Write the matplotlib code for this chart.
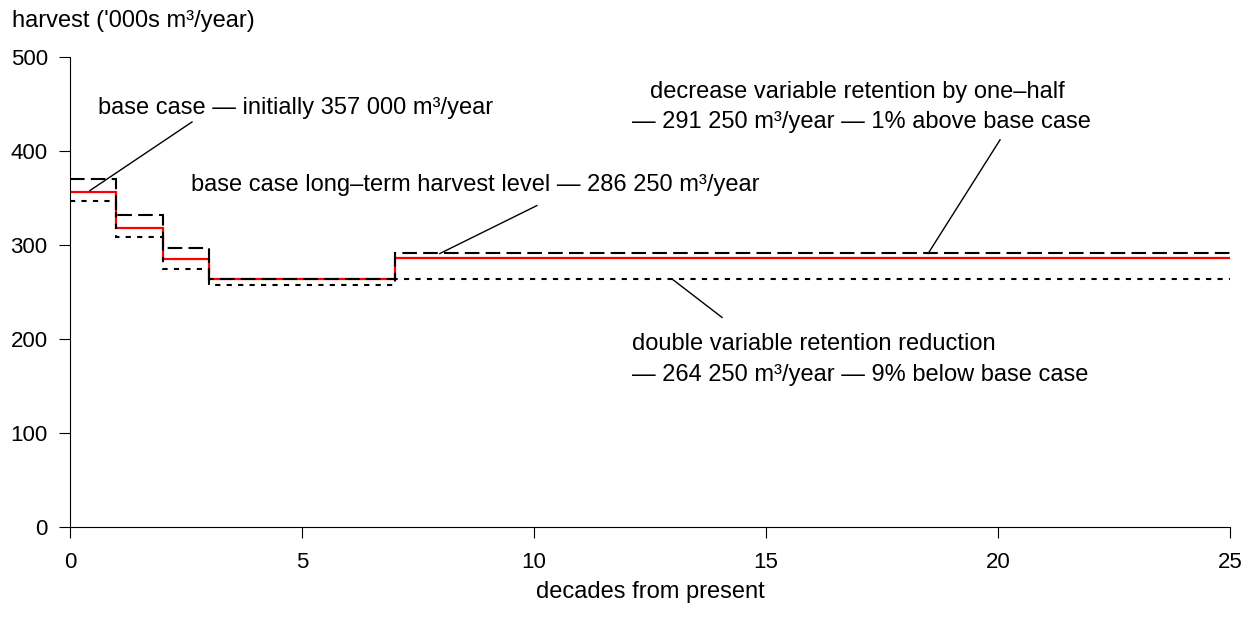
import matplotlib.pyplot as plt

plt.rcParams['font.family'] = ['Liberation Sans', 'DejaVu Sans']

# step edges (decades) and harvest per segment ('000s m3/year)
edges = [0, 1, 2, 3, 7, 25]
base_case = [357, 318, 285, 264, 286.25]
half_retention = [370, 332, 297, 264, 291.25]
double_reduction = [347, 309, 275, 258, 264.25]

fig = plt.figure(figsize=(12.49, 6.21), dpi=100)
ax = fig.add_axes([0.056, 0.1514, 0.929, 0.7566])

ax.stairs(base_case, edges, baseline=None, color='red', lw=1.6)
ax.stairs(half_retention, edges, baseline=None, color='black', lw=1.5, ls=(0, (7, 3)))
ax.stairs(double_reduction, edges, baseline=None, color='black', lw=1.5, ls=(0, (2.5, 3)))

ax.set_xlim(0, 25)
ax.set_ylim(0, 500)
ax.set_xticks([0, 5, 10, 15, 20, 25])
ax.set_yticks([0, 100, 200, 300, 400, 500])
for s in ['top', 'right']:
    ax.spines[s].set_visible(False)
fs = 17
ax.tick_params(labelsize=16, length=8, direction='out', pad=8)
ax.tick_params(axis='x', pad=10)

fig.text(12 / 1249, 1 - 21 / 621, "harvest ('000s m³/year)", fontsize=fs, ha='left', va='center')
ax.set_xlabel('decades from present', fontsize=fs, labelpad=6)

# annotations with leader lines
ax.plot([0.43, 2.63], [358, 431], color='black', lw=1)
ax.text(0.6, 446, 'base case — initially 357 000 m³/year', fontsize=fs, va='center')

ax.plot([7.97, 10.06], [291, 342], color='black', lw=1)
ax.text(2.6, 364, 'base case long–term harvest level — 286 250 m³/year', fontsize=fs, va='center')

ax.plot([18.49, 20.04], [291, 412], color='black', lw=1)
ax.text(12.5, 463, 'decrease variable retention by one–half', fontsize=fs, va='center')
ax.text(12.1, 431, '— 291 250 m³/year — 1% above base case', fontsize=fs, va='center')

ax.plot([12.97, 14.05], [264, 223], color='black', lw=1)
ax.text(12.1, 195, 'double variable retention reduction', fontsize=fs, va='center')
ax.text(12.1, 162, '— 264 250 m³/year — 9% below base case', fontsize=fs, va='center')

fig.savefig('out.png', dpi=100)
